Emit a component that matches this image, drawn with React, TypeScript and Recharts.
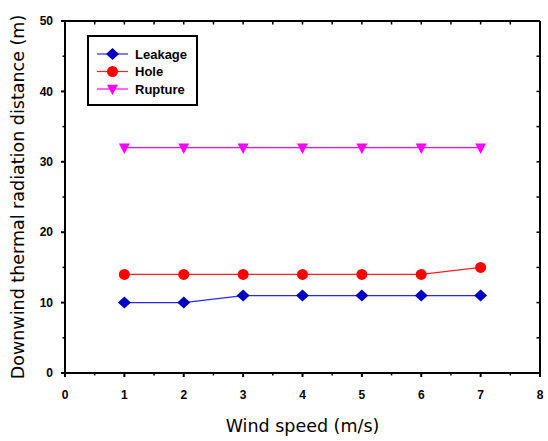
import React from 'react';
import { LineChart, Line, XAxis, YAxis, Legend } from 'recharts';

const windSpeeds = [1, 2, 3, 4, 5, 6, 7];
const leakage = [10, 10, 11, 11, 11, 11, 11];
const hole = [14, 14, 14, 14, 14, 14, 15];
const rupture = [32, 32, 32, 32, 32, 32, 32];

const xTicks = [0, 0.5, 1, 1.5, 2, 2.5, 3, 3.5, 4, 4.5, 5, 5.5, 6, 6.5, 7, 7.5, 8];
const yTicks = [0, 5, 10, 15, 20, 25, 30, 35, 40, 45, 50];
const xMajor = [0, 1, 2, 3, 4, 5, 6, 7, 8];
const yMajor = [0, 10, 20, 30, 40, 50];

const xTitle = 'Wind speed (m/s)';
const yTitle = 'Downwind thermal radiation distance (m)';

const series = [
  { key: 'leakage', name: 'Leakage', line: '#2a2ae6', fill: '#0000c0', shape: 'diamond' },
  { key: 'hole', name: 'Hole', line: '#ff2020', fill: '#ff0000', shape: 'circle' },
  { key: 'rupture', name: 'Rupture', line: '#ff00ff', fill: '#ff00ff', shape: 'triangle' },
];

const data = windSpeeds.map((w, i) => ({
  x: w,
  leakage: leakage[i],
  hole: hole[i],
  rupture: rupture[i],
}));

const W = 548;
const H = 441;
const M_TOP = 20;
const M_RIGHT = 7;
const TOP_H = 1;
const RIGHT_W = 1;
const PLOT_TOP = M_TOP + TOP_H;
const PLOT_RIGHT = W - M_RIGHT - RIGHT_W;

const TICK_FONT = '"Liberation Sans", Arial, sans-serif';
const TITLE_FONT = '"DejaVu Sans", Verdana, sans-serif';
const X_TS = 4;
const X_TM = 13;
const Y_TS = 4;
const Y_TM = 8;

const Marker = ({ cx, cy, shape, fill }: any) => {
  if (shape === 'diamond') {
    return <path d={`M${cx},${cy - 6} L${cx + 6.5},${cy} L${cx},${cy + 6} L${cx - 6.5},${cy} Z`} fill={fill} />;
  }
  if (shape === 'circle') {
    return <circle cx={cx} cy={cy} r={5.5} fill={fill} />;
  }
  return <path d={`M${cx - 5.5},${cy - 4.3} L${cx + 5.5},${cy - 4.3} L${cx},${cy + 6.3} Z`} fill={fill} />;
};

const BottomTick = (props: any) => {
  const { x, y, payload } = props;
  const v = payload.value;
  const major = xMajor.includes(v);
  const ay = y - X_TS - X_TM;
  return (
    <g>
      <line x1={x} x2={x} y1={ay} y2={ay + (major ? 4 : 2.5)} stroke="#000" strokeWidth={major ? 2 : 1.5} />
      <line x1={x} x2={x} y1={PLOT_TOP} y2={PLOT_TOP + 3.5} stroke="#000" strokeWidth={1.5} />
      {major && (
        <text x={x} y={y} dy="0.71em" textAnchor="middle" fontFamily={TICK_FONT} fontWeight="bold" fontSize={12} fill="#000">
          {v}
        </text>
      )}
    </g>
  );
};

const LeftTick = (props: any) => {
  const { x, y, payload } = props;
  const v = payload.value;
  const major = yMajor.includes(v);
  const ax = x + Y_TS + Y_TM;
  return (
    <g>
      <line x1={ax - (major ? 4 : 2.5)} x2={ax} y1={y} y2={y} stroke="#000" strokeWidth={major ? 2 : 1.5} />
      <line x1={PLOT_RIGHT - 3.5} x2={PLOT_RIGHT} y1={y} y2={y} stroke="#000" strokeWidth={1.5} />
      {major && (
        <text x={x} y={y} dy="0.355em" textAnchor="end" fontFamily={TICK_FONT} fontWeight="bold" fontSize={12} fill="#000">
          {v}
        </text>
      )}
    </g>
  );
};

const LegendBox = () => (
  <div style={{ border: '2px solid #000', width: 111, height: 71, boxSizing: 'border-box', background: '#fff' }}>
    <svg width={107} height={67} style={{ display: 'block' }}>
      {series.map((s, i) => {
        const cy = 17 + i * 17.5;
        return (
          <g key={s.key}>
            <line x1={8} x2={39} y1={cy} y2={cy} stroke={s.line} strokeWidth={1.2} />
            <Marker cx={23.5} cy={cy} shape={s.shape} fill={s.fill} />
            <text x={46} y={cy} dy="0.36em" fontFamily={TICK_FONT} fontWeight="bold" fontSize={13} fill="#000">
              {s.name}
            </text>
          </g>
        );
      })}
    </svg>
  </div>
);

export default function App() {
  return (
    <div style={{ position: 'absolute', left: 0, top: 0, background: '#fff' }}>
      <LineChart width={W} height={H} data={data} margin={{ top: M_TOP, right: M_RIGHT, bottom: 0, left: 0 }}>
        <XAxis
          dataKey="x"
          type="number"
          domain={[0, 8]}
          ticks={xTicks}
          interval={0}
          height={68}
          tickSize={X_TS}
          tickMargin={X_TM}
          tickLine={false}
          tick={<BottomTick />}
          axisLine={{ stroke: '#000', strokeWidth: 2 }}
          allowDataOverflow
          label={(p: any) => {
            const vb = p.viewBox;
            return (
              <text x={vb.x + vb.width / 2} y={vb.y + 59} textAnchor="middle" fontFamily={TITLE_FONT} fontSize={17.5} fill="#000">
                {xTitle}
              </text>
            );
          }}
        />
        <XAxis
          xAxisId="top"
          orientation="top"
          type="number"
          domain={[0, 8]}
          ticks={xTicks}
          height={TOP_H}
          tickLine={false}
          tick={false}
          axisLine={{ stroke: '#000', strokeWidth: 2 }}
          allowDataOverflow
        />
        <YAxis
          type="number"
          domain={[0, 50]}
          ticks={yTicks}
          interval={0}
          width={65}
          tickSize={Y_TS}
          tickMargin={Y_TM}
          tickLine={false}
          tick={<LeftTick />}
          axisLine={{ stroke: '#000', strokeWidth: 2 }}
          allowDataOverflow
          label={(p: any) => {
            const vb = p.viewBox;
            const cx = 18;
            const cy = vb.y + vb.height / 2;
            return (
              <text x={cx} y={cy} transform={`rotate(-90 ${cx} ${cy})`} textAnchor="middle" dy="0.36em" fontFamily={TITLE_FONT} fontSize={17.5} fill="#000">
                {yTitle}
              </text>
            );
          }}
        />
        <YAxis
          yAxisId="right"
          orientation="right"
          type="number"
          domain={[0, 50]}
          ticks={yTicks}
          width={RIGHT_W}
          tickLine={false}
          tick={false}
          axisLine={{ stroke: '#000', strokeWidth: 2 }}
          allowDataOverflow
        />
        <Legend
          layout="vertical"
          align="center"
          verticalAlign="middle"
          wrapperStyle={{ left: 87, top: 35, width: 111, height: 71 }}
          content={() => <LegendBox />}
        />
        {series.map((s) => (
          <Line
            key={s.key}
            type="linear"
            dataKey={s.key}
            name={s.name}
            stroke={s.line}
            strokeWidth={1.2}
            isAnimationActive={false}
            activeDot={false}
            dot={(p: any) => <Marker key={`${s.key}-${p.index}`} cx={p.cx} cy={p.cy} shape={s.shape} fill={s.fill} />}
          />
        ))}
      </LineChart>
    </div>
  );
}
